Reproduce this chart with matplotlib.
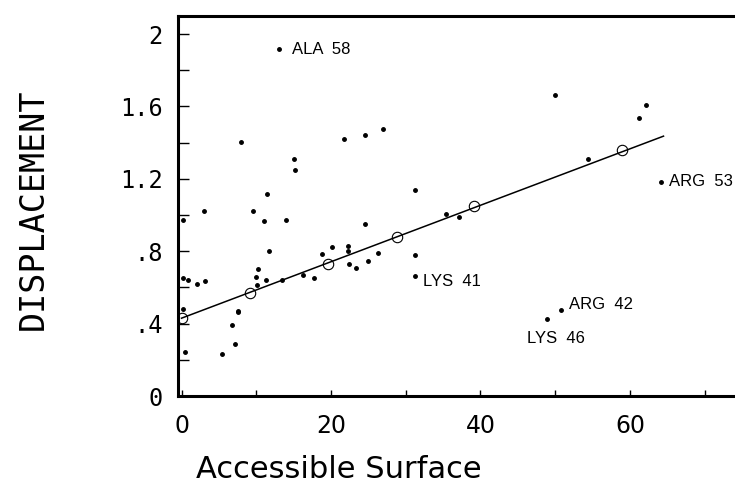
import matplotlib
matplotlib.use("Agg")
import matplotlib.pyplot as plt

# ---- data ----
surface = [13.05, 7.96, 15.1, 15.2, 11.4, 21.7, 24.6, 26.9, 31.2, 50.0,
           62.1, 61.2, 54.4, 64.1, 50.8, 48.9, 24.6, 35.4, 37.2, 24.9,
           26.3, 31.3, 31.2, 0.16, 3.0, 9.6, 11.0, 14.0, 11.7, 10.3,
           10.0, 10.1, 11.3, 13.5, 16.2, 17.7, 18.8, 20.2, 22.3, 22.3,
           22.4, 23.3, 0.16, 0.83, 2.1, 3.2, 0.16, 7.5, 7.6, 6.76,
           7.1, 5.4, 0.5]
displacement = [1.917, 1.404, 1.307, 1.25, 1.117, 1.421, 1.443, 1.475, 1.137, 1.666,
                1.607, 1.539, 1.309, 1.185, 0.477, 0.427, 0.953, 1.008, 0.990, 0.746,
                0.790, 0.779, 0.661, 0.971, 1.021, 1.021, 0.967, 0.975, 0.800, 0.702,
                0.656, 0.612, 0.643, 0.639, 0.667, 0.654, 0.787, 0.824, 0.829, 0.800,
                0.728, 0.706, 0.654, 0.639, 0.617, 0.634, 0.479, 0.468, 0.462, 0.390,
                0.287, 0.230, 0.241]

fit_x = [0.0, 64.5]
fit_y = [0.43, 1.436]
circle_x = [0.0, 9.2, 19.6, 28.9, 39.2, 59.0]
circle_y = [0.43, 0.569, 0.728, 0.877, 1.049, 1.358]

label_names = ["ALA  58", "ARG  53", "ARG  42", "LYS  41", "LYS  46"]
label_x = [13.05, 64.1, 50.8, 31.2, 48.9]
label_y = [1.917, 1.185, 0.477, 0.661, 0.427]
label_offsets = [(9, 0), (6, 0), (6, 4), (6, -4), (-14, -14)]  # points

xticks = [0, 20, 40, 60]
xticklabels = ["0", "20", "40", "60"]
yticks = [0, 0.4, 0.8, 1.2, 1.6, 2.0]
yticklabels = ["0", ".4", ".8", "1.2", "1.6", "2"]

# ---- figure ----
fig = plt.figure(figsize=(7.35, 4.97), dpi=100)
ax = fig.add_axes([178 / 735, 1 - 396 / 497, (733 - 178) / 735, (396 - 16) / 497])

ax.plot(fit_x, fit_y, color="black", lw=1.1, zorder=2)
ax.plot(circle_x, circle_y, linestyle="none", marker="o", ms=7.5,
        mfc="none", mec="black", mew=0.8, zorder=3)
ax.plot(surface, displacement, linestyle="none", marker="o", ms=2.5,
        color="black", zorder=4)

for name, lx, ly, off in zip(label_names, label_x, label_y, label_offsets):
    ax.annotate(name, (lx, ly), xytext=off, textcoords="offset points",
                ha="left", va="center", fontsize=12,
                family="Liberation Sans")

ax.set_xlim(-0.47, 73.8)
ax.set_ylim(0, 2.10)

ax.set_xticks(list(range(10, 71, 10)), minor=True)
ax.set_xticks(xticks)
ax.set_xticklabels(xticklabels, family="DejaVu Sans", fontsize=17)
ax.set_yticks([0.2, 0.6, 1.0, 1.4, 1.8], minor=True)
ax.set_yticks(yticks)
ax.set_yticklabels(yticklabels, family="DejaVu Sans Mono", fontsize=17)

ax.tick_params(axis="x", which="both", direction="in", length=4, width=1, pad=13)
ax.tick_params(axis="y", which="both", direction="in", length=8, width=1, pad=11)

for side in ["left", "bottom"]:
    ax.spines[side].set_linewidth(2.2)
ax.spines["top"].set_linewidth(2.2)
ax.spines["right"].set_visible(False)

fig.text(33 / 735, 1 - 209 / 497, "DISPLACEMENT", rotation=90,
         ha="center", va="center", fontsize=24, family="DejaVu Sans Mono")
fig.text(339 / 735, 1 - 470 / 497, "Accessible Surface",
         ha="center", va="center", fontsize=22, family="DejaVu Sans")

fig.savefig("out.png", dpi=100)
